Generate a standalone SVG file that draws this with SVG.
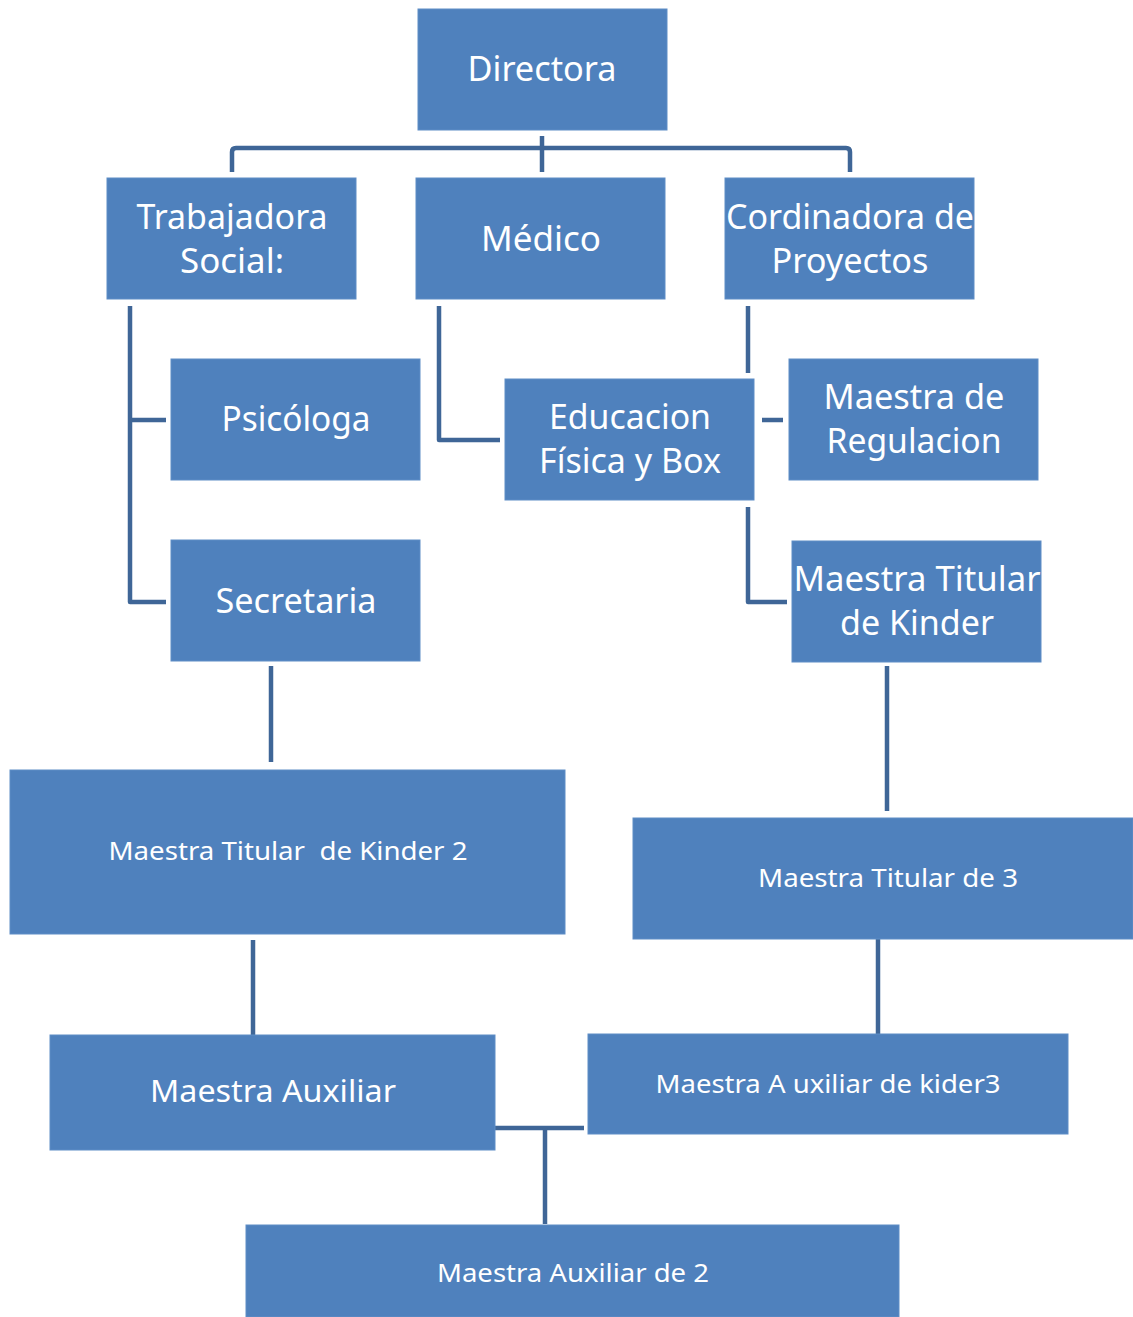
<svg xmlns="http://www.w3.org/2000/svg" width="1133" height="1317" viewBox="0 0 1133 1317">
<style>
.box{fill:#4F81BD;stroke:#5E8DC6;stroke-width:1}
.t{font-family:"Noto Sans","Open Sans",sans-serif;fill:#FFFFFF;text-anchor:middle}
.b{font-size:34px}
.m{font-size:31px}
.s{font-size:26px}
.c{fill:none;stroke:#3F6697;stroke-width:4.5;stroke-linejoin:round}
</style>
<rect width="1133" height="1317" fill="#FFFFFF"/>
<g id="connectors">
<path class="c" d="M542,136 V148"/>
<path class="c" d="M232,172 V152 Q232,148 236,148 H846 Q850,148 850,152 V172"/>
<path class="c" d="M542,148 V172"/>
<path class="c" d="M130,306 V602 H166"/>
<path class="c" d="M130,420 H166"/>
<path class="c" d="M439,306 V440 H500"/>
<path class="c" d="M748,306 V373"/>
<path class="c" d="M762,420 H783"/>
<path class="c" d="M748,507 V602 H787"/>
<path class="c" d="M271,666 V762"/>
<path class="c" d="M887,666 V811"/>
<path class="c" d="M253,940 V1035"/>
<path class="c" d="M878,939 V1034"/>
<path class="c" d="M492,1128 H584"/>
<path class="c" d="M545,1128 V1224"/>
</g>
<g id="directora"><rect class="box" x="418" y="9" width="249" height="121"/><text class="t b" x="542" y="81" textLength="149" lengthAdjust="spacingAndGlyphs">Directora</text></g>
<g id="trabajadora"><rect class="box" x="107" y="178" width="249" height="121"/><text class="t b" x="232" y="229" textLength="191" lengthAdjust="spacingAndGlyphs">Trabajadora</text><text class="t b" x="232" y="273" textLength="104" lengthAdjust="spacingAndGlyphs">Social:</text></g>
<g id="medico"><rect class="box" x="416" y="178" width="249" height="121"/><text class="t b" x="541" y="251" textLength="120" lengthAdjust="spacingAndGlyphs">Médico</text></g>
<g id="cordinadora"><rect class="box" x="725" y="178" width="249" height="121"/><text class="t b" x="850" y="229" textLength="248" lengthAdjust="spacingAndGlyphs">Cordinadora de</text><text class="t b" x="850" y="273" textLength="157" lengthAdjust="spacingAndGlyphs">Proyectos</text></g>
<g id="psicologa"><rect class="box" x="171" y="359" width="249" height="121"/><text class="t b" x="296" y="431" textLength="149" lengthAdjust="spacingAndGlyphs">Psicóloga</text></g>
<g id="educacion"><rect class="box" x="505" y="379" width="249" height="121"/><text class="t b" x="630" y="429" textLength="162" lengthAdjust="spacingAndGlyphs">Educacion</text><text class="t b" x="630" y="473" textLength="182" lengthAdjust="spacingAndGlyphs">Física y Box</text></g>
<g id="regulacion"><rect class="box" x="789" y="359" width="249" height="121"/><text class="t b" x="914" y="409" textLength="181" lengthAdjust="spacingAndGlyphs">Maestra de</text><text class="t b" x="914" y="453" textLength="175" lengthAdjust="spacingAndGlyphs">Regulacion</text></g>
<g id="secretaria"><rect class="box" x="171" y="540" width="249" height="121"/><text class="t b" x="296" y="613" textLength="161" lengthAdjust="spacingAndGlyphs">Secretaria</text></g>
<g id="titular-kinder"><rect class="box" x="792" y="541" width="249" height="121"/><text class="t b" x="917" y="591" textLength="247" lengthAdjust="spacingAndGlyphs">Maestra Titular</text><text class="t b" x="917" y="635" textLength="154" lengthAdjust="spacingAndGlyphs">de Kinder</text></g>
<g id="titular-kinder2"><rect class="box" x="10" y="770" width="555" height="164"/><text class="t s" x="288" y="860" textLength="359" lengthAdjust="spacingAndGlyphs" xml:space="preserve">Maestra Titular  de Kinder 2</text></g>
<g id="titular-3"><rect class="box" x="633" y="818" width="500" height="121"/><text class="t s" x="888" y="887" textLength="260" lengthAdjust="spacingAndGlyphs">Maestra Titular de 3</text></g>
<g id="auxiliar"><rect class="box" x="50" y="1035" width="445" height="115"/><text class="t m" x="273" y="1102" textLength="246" lengthAdjust="spacingAndGlyphs">Maestra Auxiliar</text></g>
<g id="auxiliar-kider3"><rect class="box" x="588" y="1034" width="480" height="100"/><text class="t s" x="828" y="1093" textLength="345" lengthAdjust="spacingAndGlyphs">Maestra A uxiliar de kider3</text></g>
<g id="auxiliar-2"><rect class="box" x="246" y="1225" width="653" height="92"/><text class="t s" x="573" y="1282" textLength="272" lengthAdjust="spacingAndGlyphs">Maestra Auxiliar de 2</text></g>
</svg>
